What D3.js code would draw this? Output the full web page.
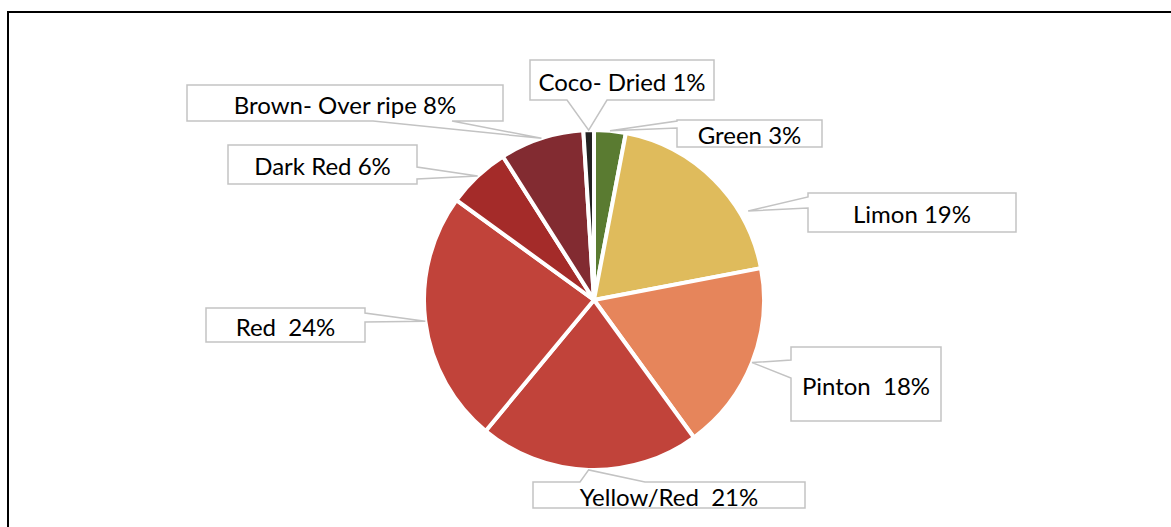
<!DOCTYPE html>
<html>
<head>
<meta charset="utf-8">
<script src="https://cdn.jsdelivr.net/npm/d3@7"></script>
<style>
  html, body { margin: 0; padding: 0; background: #fff; }
  svg { display: block; }
</style>
</head>
<body>
<svg id="chart" width="1171" height="527"></svg>
<script>
// ---- data ----
const categories = ["Green", "Limon", "Pinton", "Yellow/Red", "Red", "Dark Red", "Brown- Over ripe", "Coco- Dried"];
const values = [3, 19, 18, 21, 24, 6, 8, 1];
const labelTexts = ["Green 3%", "Limon 19%", "Pinton  18%", "Yellow/Red  21%", "Red  24%", "Dark Red 6%", "Brown- Over ripe 8%", "Coco- Dried 1%"];
const colors = ["#5a7b31", "#dfbb5c", "#e6855b", "#c1433a", "#c1433a", "#a42b29", "#822b31", "#222222"];

// ---- layout (label callout boxes) ----
const labelLayout = [
  { x: 677, y: 120, w: 145, h: 27, side: "left",   base: [121, 128] },
  { x: 808, y: 193, w: 208, h: 39, side: "left",   base: [197, 208], tipAngle: 60, tipR: 178 },
  { x: 791, y: 347, w: 150, h: 74, side: "left",   base: [360, 378] },
  { x: 533, y: 482, w: 272, h: 26, side: "top",    base: [580, 645] },
  { x: 206, y: 308, w: 159, h: 34, side: "right",  base: [313, 322] },
  { x: 228, y: 145, w: 189, h: 39, side: "right",  base: [167, 179] },
  { x: 187, y: 85,  w: 316, h: 36, side: "bottom", base: [373, 452] },
  { x: 530, y: 60,  w: 184, h: 40, side: "bottom", base: [567, 607] }
];

const svg = d3.select("#chart");
const W = 1171, H = 527;
const cx = 594, cy = 300, R = 170;

// frame
svg.append("path")
  .attr("d", `M8,${H} L8,12 L${W},12`)
  .attr("fill", "none").attr("stroke", "#000").attr("stroke-width", 2);

const pie = d3.pie().sort(null).value(d => d)(values);
const arc = d3.arc().innerRadius(0).outerRadius(R);

const g = svg.append("g").attr("transform", `translate(${cx},${cy})`);
g.selectAll("path.slice").data(pie).join("path")
  .attr("class", "slice")
  .attr("d", arc)
  .attr("fill", (d, i) => colors[i])
  .attr("stroke", "#fff")
  .attr("stroke-width", 4)
  .attr("stroke-linejoin", "round");

function calloutPath(L, tip) {
  const x0 = L.x, y0 = L.y, x1 = L.x + L.w, y1 = L.y + L.h;
  const [a, b] = L.base;
  const t = `${tip[0]},${tip[1]}`;
  switch (L.side) {
    case "top":    return `M${x0},${y0} L${a},${y0} L${t} L${b},${y0} L${x1},${y0} L${x1},${y1} L${x0},${y1} Z`;
    case "right":  return `M${x0},${y0} L${x1},${y0} L${x1},${a} L${t} L${x1},${b} L${x1},${y1} L${x0},${y1} Z`;
    case "bottom": return `M${x0},${y0} L${x1},${y0} L${x1},${y1} L${b},${y1} L${t} L${a},${y1} L${x0},${y1} Z`;
    case "left":   return `M${x0},${y0} L${x1},${y0} L${x1},${y1} L${x0},${y1} L${x0},${b} L${t} L${x0},${a} Z`;
  }
}

const lg = svg.append("g");
pie.forEach((d, i) => {
  const L = labelLayout[i];
  const ang = L.tipAngle !== undefined ? L.tipAngle * Math.PI / 180 : (d.startAngle + d.endAngle) / 2;
  const r = L.tipR || R;
  const tip = [cx + r * Math.sin(ang), cy - r * Math.cos(ang)];
  lg.append("path")
    .attr("d", calloutPath(L, tip))
    .attr("fill", "#fff")
    .attr("stroke", "#c3c3c3")
    .attr("stroke-width", 1.5)
    .attr("stroke-linejoin", "miter");
  lg.append("text")
    .attr("x", L.x + L.w / 2)
    .attr("y", L.y + L.h / 2 + 1)
    .attr("text-anchor", "middle")
    .attr("dominant-baseline", "central")
    .attr("font-family", "Lato, 'Open Sans', sans-serif")
    .attr("font-size", 24)
    .attr("fill", "#000")
    .style("white-space", "pre")
    .text(labelTexts[i]);
});
</script>
</body>
</html>
